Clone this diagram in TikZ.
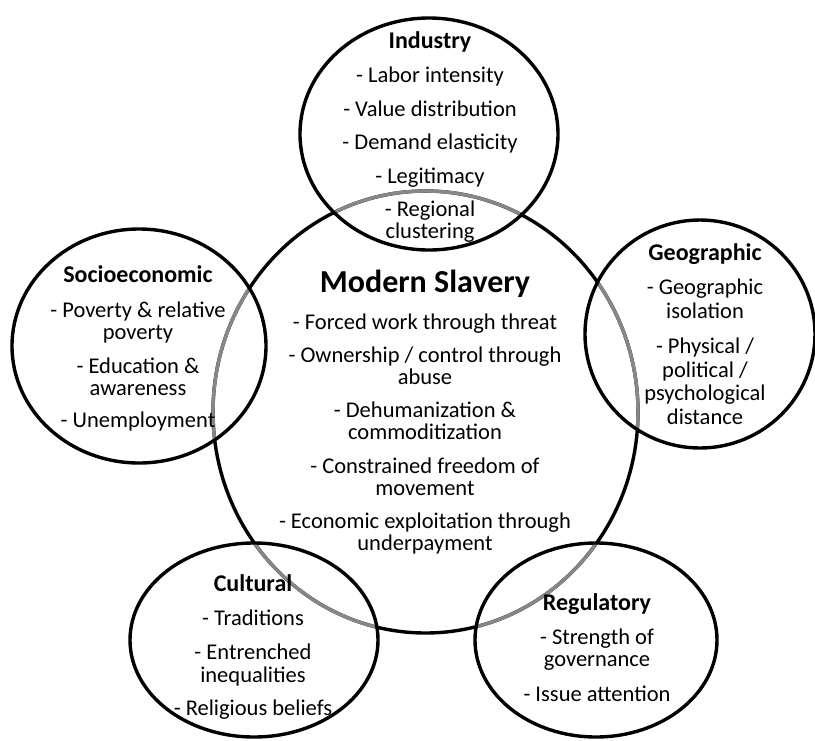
\documentclass[tikz,border=0pt]{standalone}
\usepackage{fontspec}
\setmainfont{Carlito}
\usetikzlibrary{shapes.geometric}
\begin{document}
\begin{tikzpicture}[x=1pt,y=-1pt,
  ring/.style={draw=black,line width=3.4pt},
  greyring/.style={draw=black!47,line width=3.4pt},
  body/.style={align=center,font=\fontsize{22.5}{22}\selectfont,inner sep=0pt,anchor=north},
  head/.style={font=\fontsize{24}{26}\selectfont\bfseries,inner sep=0pt,anchor=base}]
\useasboundingbox (0,0) rectangle (815,740);
% centres
\coordinate (cM) at (425.5,412);
\coordinate (cI) at (429,134);
\coordinate (cS) at (139,346);
\coordinate (cG) at (700,334);
\coordinate (cC) at (254,640);
\coordinate (cR) at (596,640);
% big circle
\draw[ring] (cM) ellipse [x radius=212.5, y radius=221];
% grey parts of the big circle inside the small ones
\foreach \c/\rx/\ry in {cI/129/116, cS/127/117, cG/115/114, cC/124/97, cR/121/97}{
  \begin{scope}
    \clip (\c) ellipse [x radius=\rx, y radius=\ry];
    \draw[greyring] (cM) ellipse [x radius=212.5, y radius=221];
  \end{scope}
}
\draw[ring] (cI) ellipse [x radius=129, y radius=116];
\draw[ring] (cS) ellipse [x radius=127, y radius=117];
\draw[ring] (cG) ellipse [x radius=115, y radius=114];
\draw[ring] (cC) ellipse [x radius=124, y radius=97];
\draw[ring] (cR) ellipse [x radius=121, y radius=97];
% texts
\node[head] (hI) at (430,48) {Industry};
\node[body] (tI) at (430,67) {- Labor intensity\\[11.5pt]- Value distribution\\[11.5pt]- Demand elasticity\\[11.5pt]- Legitimacy\\[11.5pt]- Regional\\clustering};
\node[font=\fontsize{32}{34}\selectfont\bfseries,inner sep=0pt,anchor=base] (hM) at (425,292) {Modern Slavery};
\node[body] (tM) at (425,314) {- Forced work through threat\\[10.5pt]- Ownership / control through\\abuse\\[11.5pt]- Dehumanization \&\\commoditization\\[11.5pt]- Constrained freedom of\\movement\\[11.5pt]- Economic exploitation through\\underpayment};
\node[head] (hS) at (138,282) {Socioeconomic};
\node[body] (tS) at (138,302) {- Poverty \& relative\\poverty\\[12pt]- Education \&\\awareness\\[10pt]- Unemployment};
\node[head] (hG) at (705,260) {Geographic};
\node[body,font=\fontsize{22.5}{23.5}\selectfont] (tG) at (705,279) {- Geographic\\isolation\\[12pt]- Physical /\\political /\\psychological\\distance};
\node[head] (hC) at (253,591) {Cultural};
\node[body,font=\fontsize{22.5}{23}\selectfont] (tC) at (253,610) {- Traditions\\[11pt]- Entrenched\\inequalities\\[10pt]- Religious beliefs};
\node[head] (hR) at (597,610) {Regulatory};
\node[body] (tR) at (597,629) {- Strength of\\governance\\[13pt]- Issue attention};
\end{tikzpicture}
\end{document}
